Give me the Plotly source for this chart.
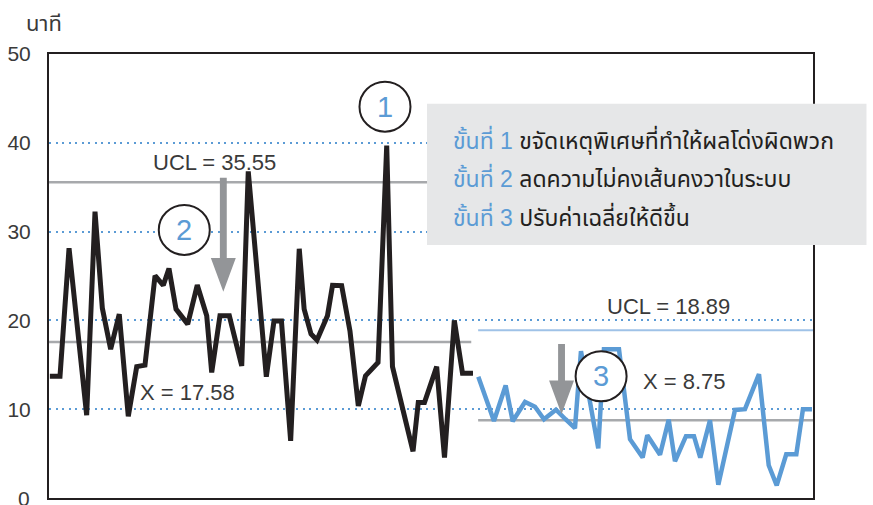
import plotly.graph_objects as go

# ---------------- data ----------------
# Phase 1 (before improvement) – black series
black_x = [0.1, 1.28, 2.33, 4.38, 5.35, 6.20, 7.17, 8.17, 9.22, 10.20, 11.16, 12.33,
           13.29, 13.95, 14.77, 16.13, 17.24, 18.34, 18.92, 19.88, 20.97, 22.41, 23.17,
           25.27, 26.16, 27.03, 28.10, 29.10, 29.67, 30.47, 31.16, 32.38, 32.97, 34.03,
           35.00, 35.97, 36.80, 38.26, 39.27, 39.94, 42.33, 42.94, 43.66, 45.08, 45.99,
           47.13, 48.08, 49.30]
black_y = [13.72, 13.72, 28.12, 9.32, 32.24, 21.39, 16.76, 20.71, 9.21, 14.79, 14.96, 25.03,
           23.95, 25.84, 21.27, 19.58, 23.98, 20.52, 14.14, 20.52, 20.52, 14.88, 36.78,
           13.66, 19.92, 19.92, 6.43, 28.07, 21.27, 18.46, 17.78, 20.52, 23.95, 23.92,
           18.79, 10.37, 13.75, 15.26, 39.68, 14.79, 5.26, 10.76, 10.76, 14.79, 4.55,
           20.01, 14.06, 14.06]

# Phase 2 (after improvement) – blue series
blue_x = [49.92, 51.74, 53.10, 53.92, 55.35, 56.51, 57.56, 58.95, 60.06, 61.16, 61.86,
          63.87, 64.53, 66.28, 67.56, 69.03, 69.57, 71.05, 72.06, 72.79, 74.07, 75.00,
          75.73, 76.86, 77.83, 79.77, 80.93, 82.56, 83.69, 84.62, 85.73, 86.90, 87.67,
          88.72]
blue_y = [13.66, 8.68, 12.67, 8.65, 10.82, 10.28, 8.87, 9.94, 8.87, 7.86, 16.54,
          5.60, 16.76, 16.76, 6.62, 4.55, 7.07, 4.87, 8.82, 4.14, 6.96, 6.96,
          4.55, 8.76, 1.49, 9.92, 10.00, 13.95, 3.69, 1.43, 4.93, 4.93, 10.00,
          10.00]

# control limits
phase1_ucl = 35.55
phase1_cl = 17.58
phase2_ucl = 18.89
phase2_cl = 8.75
phase1_span = [0.0, 49.1]
phase2_span = [49.9, 88.84]

y_ticks = [0, 10, 20, 30, 40, 50]
y_title = "นาที"

steps = [
    ("ขั้นที่ 1", "ขจัดเหตุพิเศษที่ทำให้ผลโด่งผิดพวก"),
    ("ขั้นที่ 2", "ลดความไม่คงเส้นคงวาในระบบ"),
    ("ขั้นที่ 3", "ปรับค่าเฉลี่ยให้ดีขึ้น"),
]

# ---------------- styling ----------------
BLACK = "#231f20"
BLUE = "#5b9bd5"
LIGHTBLUE = "#9fc2e7"
GRAY = "#a7a9ac"
ARROW_GRAY = "#939598"
TEXT = "#3a3a3a"
FONT = "Liberation Sans, Arial, Noto Sans Thai, Noto Sans, sans-serif"

fig = go.Figure()

# control lines
fig.add_trace(go.Scatter(x=phase1_span, y=[phase1_ucl] * 2, mode="lines",
                         line=dict(color=GRAY, width=2.5), hoverinfo="skip"))
fig.add_trace(go.Scatter(x=phase1_span, y=[phase1_cl] * 2, mode="lines",
                         line=dict(color=GRAY, width=2.5), hoverinfo="skip"))
fig.add_trace(go.Scatter(x=phase2_span, y=[phase2_ucl] * 2, mode="lines",
                         line=dict(color=LIGHTBLUE, width=2), hoverinfo="skip"))
fig.add_trace(go.Scatter(x=phase2_span, y=[phase2_cl] * 2, mode="lines",
                         line=dict(color=GRAY, width=2.5), hoverinfo="skip"))

# data series
fig.add_trace(go.Scatter(x=black_x, y=black_y, mode="lines",
                         line=dict(color=BLACK, width=5, shape="linear")))
fig.add_trace(go.Scatter(x=blue_x, y=blue_y, mode="lines",
                         line=dict(color=BLUE, width=4.5, shape="linear")))

shapes = []
annotations = []

# grey legend box
shapes.append(dict(type="rect", xref="paper", yref="paper",
                   x0=0.4948, x1=1.07, y0=0.570, y1=0.888,
                   fillcolor="#e6e7e8", line=dict(width=0), layer="above"))

# arrows (x, y_top, y_tip)
arrows = [(20.27, 36.06, 23.23), (59.6, 17.33, 9.42)]
for ax, ytop, ytip in arrows:
    hw = 0.40   # shaft half width (x units)
    hh = 1.45   # head half width (x units)
    hl = 3.8    # head length (y units)
    path = (f"M {ax-hw},{ytop} L {ax+hw},{ytop} L {ax+hw},{ytip+hl} "
            f"L {ax+hh},{ytip+hl} L {ax},{ytip} L {ax-hh},{ytip+hl} "
            f"L {ax-hw},{ytip+hl} Z")
    shapes.append(dict(type="path", path=path, xref="x", yref="y",
                       fillcolor=ARROW_GRAY, line=dict(width=0), layer="above"))

# numbered circles (x, y, label)
circles = [(39.07, 44.07, "1"), (15.73, 30.19, "2"), (64.2, 13.71, "3")]
for cx, cy, lab in circles:
    shapes.append(dict(type="circle", xref="x", yref="y",
                       xsizemode="pixel", ysizemode="pixel",
                       xanchor=cx, yanchor=cy, x0=-25.5, x1=25.5, y0=-25, y1=25,
                       fillcolor="white", line=dict(color=BLACK, width=2),
                       layer="above"))
    annotations.append(dict(x=cx, y=cy, xref="x", yref="y", text=lab,
                            xanchor="center", yanchor="middle",
                            showarrow=False, font=dict(size=29, color=BLUE, family=FONT)))

# limit labels
labels = [
    (19.3, 37.75, f"UCL = {phase1_ucl:.2f}"),
    (16.05, 11.85, f"X = {phase1_cl:.2f}"),
    (71.98, 21.6, f"UCL = {phase2_ucl:.2f}"),
    (73.95, 13.15, f"X = {phase2_cl:.2f}"),
]
for lx, ly, t in labels:
    annotations.append(dict(x=lx, y=ly, xref="x", yref="y", text=t, showarrow=False,
                            xanchor="center", yanchor="middle",
                            font=dict(size=22, color=TEXT, family=FONT)))

# legend-box text
legend_y = [40.35, 36.06, 31.66]
for (head, body), ly in zip(steps, legend_y):
    annotations.append(dict(x=46.74, y=ly, xref="x", yref="y", xanchor="left",
                            yanchor="middle",
                            text=f"<span style='color:{BLUE}'>{head}</span> {body}",
                            showarrow=False,
                            font=dict(size=23, color=BLACK, family=FONT)))

# y axis title
annotations.append(dict(x=-0.0065, y=1.069, xref="paper", yref="paper", text=y_title,
                        xanchor="center", yanchor="middle",
                        showarrow=False, font=dict(size=22, color=TEXT, family=FONT)))

# the bottom tick label sits on the page edge (plotly drops it as a tick), so draw it as text
annotations.append(dict(x=-0.0222, y=y_ticks[0], xref="paper", yref="y",
                        text=str(y_ticks[0]), xanchor="right", yanchor="middle",
                        showarrow=False, font=dict(size=21, color=TEXT, family=FONT)))

fig.update_layout(
    width=873, height=505,
    margin=dict(l=49, r=60, t=54, b=7, autoexpand=False),
    paper_bgcolor="white", plot_bgcolor="white",
    showlegend=False,
    shapes=shapes, annotations=annotations,
    font=dict(family=FONT, color=TEXT),
    xaxis=dict(range=[0, 88.84], showticklabels=False, ticks="", showgrid=False,
               zeroline=False, showline=True, mirror=True, linecolor=BLACK, linewidth=2,
               fixedrange=True),
    yaxis=dict(range=[0, 50], tickvals=y_ticks[1:], ticks="", showgrid=True,
               gridcolor=BLUE, gridwidth=2, griddash="2px,4.5px", zeroline=False,
               showline=True, mirror=True, linecolor=BLACK, linewidth=2,
               tickfont=dict(size=21, color=TEXT, family=FONT), ticklabelstandoff=12,
               fixedrange=True),
)

fig.write_html("out.html", config={"displayModeBar": False},
               post_script="document.body.style.margin='0';document.body.style.padding='0';")
